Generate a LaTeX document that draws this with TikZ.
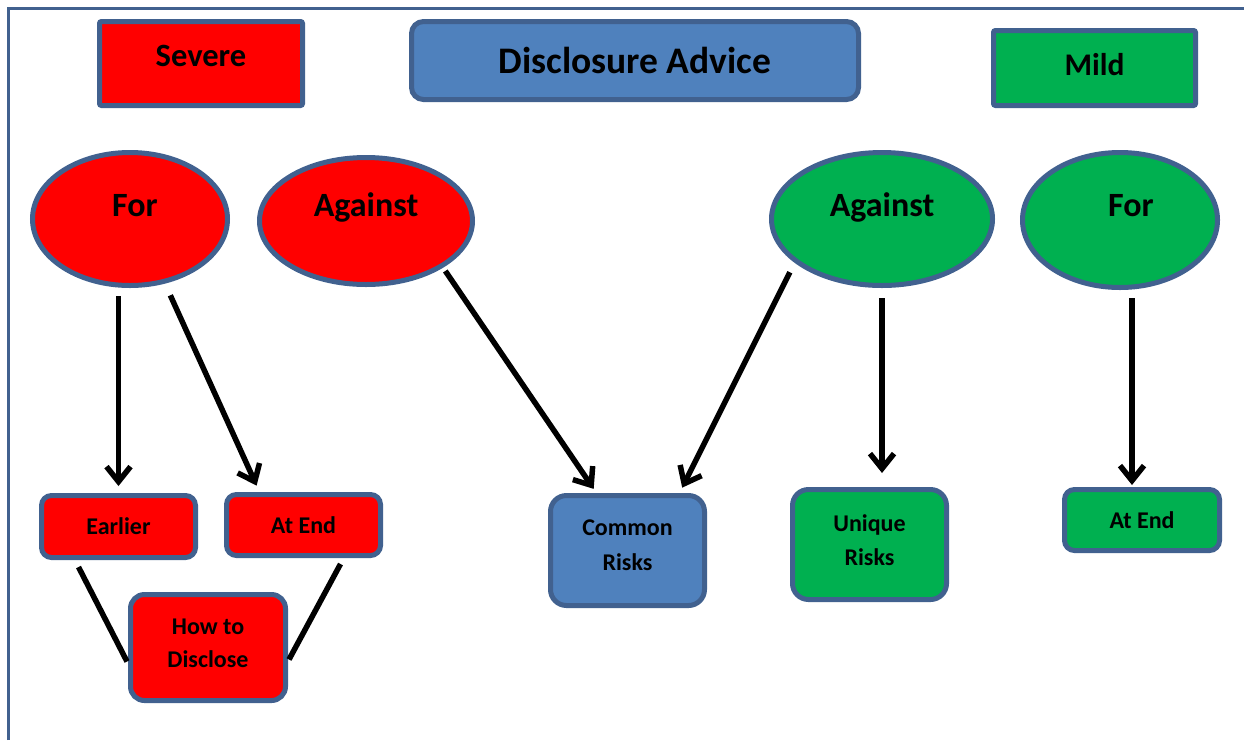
\documentclass[tikz,border=0pt]{standalone}
\usepackage{fontspec}
\setmainfont{Carlito}
\usetikzlibrary{arrows.meta,shapes.geometric,calc}
\definecolor{frameblue}{HTML}{41618F}
\definecolor{edgeblue}{HTML}{41618F}
\definecolor{redf}{HTML}{FF0000}
\definecolor{greenf}{HTML}{00B050}
\definecolor{bluef}{HTML}{4F81BD}
\begin{document}
\begin{tikzpicture}[x=1pt,y=-1pt,
  base/.style={draw=edgeblue,line width=5pt,inner sep=0pt,text=black,align=center},
  bigbox/.style={base,rectangle,rounded corners=2pt,font=\bfseries\fontsize{32.5}{38}\selectfont},
  oval/.style={base,ellipse,font=\bfseries\fontsize{34}{40}\selectfont},
  smallbox/.style={base,rectangle,rounded corners=10pt,minimum width=154pt,font=\bfseries\fontsize{24}{34}\selectfont},
  arr/.style={black,line width=5.5pt,-{Straight Barb[length=15pt,width=24pt]}},
  link/.style={black,line width=5.5pt}]
\useasboundingbox (0,0) rectangle (1244,740);
\fill[white] (0,0) rectangle (1244,740);
\draw[frameblue,line width=3pt] (8,740) -- (8,8) -- (1244,8);

% top boxes
\node[bigbox,fill=redf,minimum width=203pt,minimum height=84pt] (severe) at (201,63.5) {\raisebox{16pt}{Severe}};
\node[bigbox,fill=bluef,rounded corners=12pt,minimum width=447pt,minimum height=78pt,font=\bfseries\fontsize{37.5}{44}\selectfont] (advice) at (635,60.5) {Disclosure Advice};
\node[bigbox,fill=greenf,minimum width=202pt,minimum height=75pt,font=\bfseries\fontsize{31.5}{38}\selectfont] (mild) at (1094.5,68) {\raisebox{8pt}{Mild}};

% ellipses
\node[oval,fill=redf,minimum width=195pt,minimum height=133pt] (forR) at (130,219) {\raisebox{28pt}{\hspace*{10pt}For}};
\node[oval,fill=redf,minimum width=213pt,minimum height=127pt] (againstR) at (366,221) {\raisebox{32pt}{Against}};
\node[oval,fill=greenf,minimum width=221pt,minimum height=133pt] (againstG) at (882,219) {\raisebox{28pt}{Against}};
\node[oval,fill=greenf,minimum width=195pt,minimum height=135pt] (forG) at (1120,220) {\raisebox{29pt}{\hspace*{22pt}For}};

% bottom boxes
\node[smallbox,fill=redf,minimum height=62pt] (earlier) at (118.5,526.5) {Earlier};
\node[smallbox,fill=redf,minimum height=61pt] (atendR) at (303.5,525) {At End};
\node[smallbox,fill=redf,minimum width=155pt,minimum height=106pt,rounded corners=14pt,font=\bfseries\fontsize{24}{33}\selectfont,text depth=8pt] (how) at (208,647.5) {How to\\Disclose};
\node[smallbox,fill=bluef,minimum height=110pt,rounded corners=16pt,font=\bfseries\fontsize{24}{35}\selectfont,text depth=10pt] (common) at (627.5,550.5) {Common\\Risks};
\node[smallbox,fill=greenf,minimum height=110pt,rounded corners=16pt,font=\bfseries\fontsize{24}{34}\selectfont,text depth=9pt] (unique) at (869.5,544.5) {Unique\\Risks};
\node[smallbox,fill=greenf,minimum width=155pt,minimum height=61pt] (atendG) at (1142,520) {At End};

% arrows
\draw[arr,shorten <=8pt,shorten >=7pt] (forR.south -| earlier.north) -- (earlier.north);
\draw[arr,shorten <=8pt,shorten >=7pt] ([xshift=37pt]forR.south) -- ([xshift=-44pt]atendR.north);
\draw[arr,shorten <=4pt,shorten >=5pt] (againstR.south east) -- ([xshift=-31pt]common.north);
\draw[arr,shorten <=5pt,shorten >=6pt] ([xshift=-10pt]againstG.south west) -- ([xshift=52pt]common.north);
\draw[arr,shorten <=10pt,shorten >=14pt] (againstG.south) -- (againstG.south |- unique.north);
\draw[arr,shorten <=8pt,shorten >=2pt] ([xshift=-10pt]atendG.north |- forG.south) -- ([xshift=-10pt]atendG.north);

% links
\draw[link] ([xshift=-40pt,yshift=-7pt]earlier.south) -- ([xshift=-1pt,yshift=-14pt]how.west);
\draw[link] ([xshift=37pt,yshift=-6pt]atendR.south) -- ([xshift=1pt,yshift=-12pt]how.east);
\end{tikzpicture}
\end{document}
